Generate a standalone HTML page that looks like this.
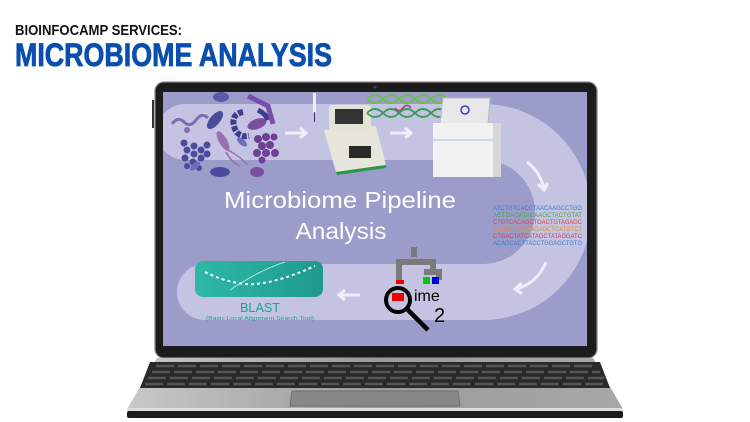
<!DOCTYPE html>
<html><head><meta charset="utf-8"><style>
html,body{margin:0;padding:0;background:#fff;width:750px;height:422px;overflow:hidden}
svg{display:block}
</style></head><body>
<svg width="750" height="422" viewBox="0 0 750 422" xmlns="http://www.w3.org/2000/svg" font-family="Liberation Sans, sans-serif">
<defs>
<linearGradient id="base" x1="0" x2="1" y1="0" y2="0"><stop offset="0" stop-color="#c8c8c8"/><stop offset="0.5" stop-color="#9a9a9a"/><stop offset="1" stop-color="#a8a8a8"/></linearGradient>
<linearGradient id="teal" x1="0" x2="1"><stop offset="0" stop-color="#2fb9a6"/><stop offset="1" stop-color="#1e9a8c"/></linearGradient>
<clipPath id="scr"><rect x="163" y="92" width="424" height="254"/></clipPath>
</defs>
<text x="15" y="35" font-size="15" font-weight="bold" fill="#111" textLength="167" lengthAdjust="spacingAndGlyphs">BIOINFOCAMP SERVICES:</text>
<text x="15" y="66" font-size="32" font-weight="bold" fill="#0a4fb0" stroke="#0a4fb0" stroke-width="0.8" textLength="317" lengthAdjust="spacingAndGlyphs">MICROBIOME ANALYSIS</text>

<!-- lid -->
<rect x="155" y="82" width="442" height="276" rx="9" fill="#1c1c1c" stroke="#8a8a8a" stroke-width="1.2"/>
<circle cx="375" cy="87" r="1.5" fill="#444"/>
<rect x="163" y="92" width="424" height="254" fill="#9c9ccb"/>
<g clip-path="url(#scr)">
<!-- track -->
<path d="M185 132 L483 132 A80 80 0 0 1 483 292 L205 292" fill="none" stroke="#c4c4e2" stroke-width="56" stroke-linecap="round"/>
<!-- arrows -->
<g stroke="#eef" stroke-width="3" fill="none">
<path d="M285 133 H305 M300 128 L306 133 L300 138"/>
<path d="M390 133 H410 M405 128 L411 133 L405 138"/>
<path d="M527 162 Q540 172 544 188 M538 184 L544 190 L548 183"/>
<path d="M546 262 Q538 282 517 289 M522 283 L515 289 L522 294"/>
<path d="M360 295 H340 M345 290 L339 295 L345 300"/>
</g>
<!-- bacteria -->
<g fill="#4b4a9c">
<g transform="translate(187 150)">
<circle cx="0" cy="0" r="3.5"/><circle cx="7" cy="-4" r="3.5"/><circle cx="7" cy="4" r="3.5"/><circle cx="14" cy="0" r="3.5"/><circle cx="-2" cy="8" r="3.5"/><circle cx="14" cy="8" r="3.5"/><circle cx="6" cy="12" r="3.5"/><circle cx="20" cy="-5" r="3.5"/><circle cx="-3" cy="-7" r="3.5"/><circle cx="20" cy="4" r="3.5"/><circle cx="0" cy="16" r="3"/><circle cx="12" cy="18" r="3"/>
</g>
<path d="M243 112 q-12 2 -9 14 q3 12 15 10" fill="none" stroke="#3e3d90" stroke-width="6" stroke-dasharray="5 1.5"/>
<path d="M258 110 q8 4 10 10" fill="none" stroke="#3e3d90" stroke-width="5"/>
<ellipse cx="215" cy="120" rx="5" ry="11" transform="rotate(40 215 120)"/>
<ellipse cx="220" cy="172" rx="10" ry="5"/>
<ellipse cx="187" cy="130" rx="3" ry="3" fill="#8a6fae"/>
<ellipse cx="221" cy="97" rx="8" ry="5" fill="#5a5aa8"/>
<ellipse cx="195" cy="166" rx="3" ry="6" transform="rotate(50 195 166)" fill="#6d6db8"/>
<ellipse cx="242" cy="142" rx="3" ry="6" transform="rotate(-50 242 142)" fill="#6d6db8"/>
</g>
<path d="M172 124 q6 -8 12 -2 q6 6 12 -2 q6 -8 12 -2" fill="none" stroke="#7f6bb3" stroke-width="3"/>
<path d="M248 96 l20 10 l5 18" fill="none" stroke="#7650a8" stroke-width="5"/>
<ellipse cx="257" cy="124" rx="10" ry="5" transform="rotate(-20 257 124)" fill="#7a4d9f"/>
<ellipse cx="223" cy="141" rx="4" ry="11" transform="rotate(-30 223 141)" fill="#9a6fb4"/>
<path d="M228 150 q10 5 20 15 M226 152 q5 10 14 14" stroke="#9a6fb4" stroke-width="1.5" fill="none"/>
<g fill="#6e3f95"><circle cx="258" cy="139" r="4"/><circle cx="266" cy="137" r="4"/><circle cx="262" cy="146" r="4"/><circle cx="270" cy="145" r="4"/><circle cx="266" cy="153" r="4"/><circle cx="257" cy="153" r="4"/><circle cx="275" cy="153" r="4"/><circle cx="274" cy="137" r="3.5"/><circle cx="262" cy="160" r="3.5"/></g>
<ellipse cx="257" cy="172" rx="7" ry="5" fill="#7a4d9f"/>
<!-- pipette -->
<rect x="313" y="93" width="3" height="20" fill="#eee"/><rect x="314" y="112" width="1" height="10" fill="#336"/>
<!-- PCR -->
<path d="M324 130 L376 126 L386 165 L336 172 Z" fill="#e6e6dc"/>
<rect x="329" y="105" width="42" height="26" rx="3" fill="#e3e3d8"/>
<rect x="335" y="109" width="28" height="15" fill="#333"/>
<rect x="349" y="146" width="22" height="12" fill="#2a2a2a"/>
<path d="M336 172 L386 165 L386 168 L337 175Z" fill="#2a9a4a"/>
<!-- DNA helices -->
<path d="M367 99 q8 -8 16 0 t16 0 t16 0 t16 0 t16 0 M367 99 q8 8 16 0 t16 0 t16 0 t16 0 t16 0" fill="none" stroke="#6cc048" stroke-width="1.8"/>
<path d="M367 113 q8 -8 16 0 t16 0 t16 0 t16 0 t16 0 M367 113 q8 8 16 0 t16 0 t16 0 t16 0 t16 0" fill="none" stroke="#3a9a5a" stroke-width="1.8"/>
<path d="M395 108 q4 5 8 0 t8 0" fill="none" stroke="#b04080" stroke-width="1.8"/>
<!-- sequencer -->
<path d="M443 98 L490 98 L488 124 L440 124 Z" fill="#e8e8ea" stroke="#bbb"/>
<circle cx="465" cy="110" r="4" fill="none" stroke="#3540c0" stroke-width="1.5"/>
<rect x="433" y="123" width="68" height="54" fill="#f2f2f2"/>
<rect x="493" y="123" width="8" height="54" fill="#d8d8d8"/>
<line x1="433" y1="140" x2="493" y2="140" stroke="#9cd" stroke-width="1"/>
<!-- title -->
<text x="340" y="208" font-size="23" fill="#fff" text-anchor="middle" textLength="232" lengthAdjust="spacingAndGlyphs">Microbiome Pipeline</text>
<text x="341" y="239" font-size="23" fill="#fff" text-anchor="middle" textLength="91" lengthAdjust="spacingAndGlyphs">Analysis</text>
<!-- sequences -->
<g font-size="6.5" font-family="Liberation Sans, sans-serif">
<text x="493" y="210" fill="#3c7bd0" textLength="89" lengthAdjust="spacingAndGlyphs">ATCTGTCACCTAACAAGCCTGG</text>
<text x="493" y="217" fill="#4aa84a" textLength="89" lengthAdjust="spacingAndGlyphs">AGTGAGATACAAGCTACTGTAT</text>
<text x="493" y="224" fill="#d8453c" textLength="89" lengthAdjust="spacingAndGlyphs">CTGTCACAGCTGACTGTAGAGC</text>
<text x="493" y="231" fill="#e28a2a" textLength="89" lengthAdjust="spacingAndGlyphs">ACTACACTATAGAGCTCATGTCT</text>
<text x="493" y="238" fill="#c84060" textLength="89" lengthAdjust="spacingAndGlyphs">CTGACTATCATAGCTATAGGATC</text>
<text x="493" y="245" fill="#3c7bd0" textLength="89" lengthAdjust="spacingAndGlyphs">ACAGCACTTACCTGGAGCTGTG</text>
</g>
<!-- qiime -->
<path d="M414 247 V257 M399 281 V262 H433 V272 M424 272 H439 V280" fill="none" stroke="#7a7a7a" stroke-width="6"/>
<rect x="396" y="280" width="8" height="4" fill="#e00"/>
<rect x="423" y="277" width="7" height="7" fill="#0c0"/><rect x="432" y="277" width="7" height="7" fill="#00d"/>
<circle cx="398" cy="300" r="12" fill="none" stroke="#000" stroke-width="4"/>
<rect x="392" y="293" width="12" height="8" fill="#e00"/>
<line x1="406" y1="308" x2="428" y2="330" stroke="#000" stroke-width="4.5"/>
<text x="414" y="301" font-size="16" fill="#000">ime</text>
<text x="434" y="322" font-size="20" fill="#000">2</text>
<!-- BLAST -->
<rect x="195" y="261" width="128" height="36" rx="8" fill="url(#teal)"/>
<path d="M205 272 q20 10 40 12 q25 2 70 -18" fill="none" stroke="#fff" stroke-width="2" stroke-dasharray="3 3"/>
<path d="M230 290 q30 -20 55 -28" fill="none" stroke="#e0fff8" stroke-width="1" opacity=".7"/>
<text x="260" y="312" font-size="13" fill="#1aa396" text-anchor="middle" textLength="40" lengthAdjust="spacingAndGlyphs">BLAST</text>
<text x="260" y="320" font-size="5" fill="#1aa396" text-anchor="middle" textLength="108" lengthAdjust="spacingAndGlyphs">(Basic Local Alignment Search Tool)</text>
</g>
<rect x="152" y="100" width="2" height="28" fill="#333"/>
<!-- base -->
<path d="M157 358 L593 358 L623 409 L127 409 Z" fill="url(#base)"/>
<path d="M150 362 L600 362 L610 388 L140 388 Z" fill="#2a2a2a"/>
<g stroke="#555" stroke-width="2.5" stroke-dasharray="18 4">
<line x1="156" y1="366" x2="596" y2="366"/>
<line x1="152" y1="372" x2="600" y2="372"/>
<line x1="148" y1="378" x2="604" y2="378"/>
<line x1="145" y1="384" x2="607" y2="384"/>
</g>
<path d="M292 391 L458 391 L460 406 L290 406 Z" fill="#888" stroke="#6d6d6d"/>
<rect x="127" y="408" width="496" height="3" fill="#ddd"/>
<rect x="127" y="411" width="496" height="7" rx="2" fill="#1c1c1c"/>
</svg>
</body></html>
